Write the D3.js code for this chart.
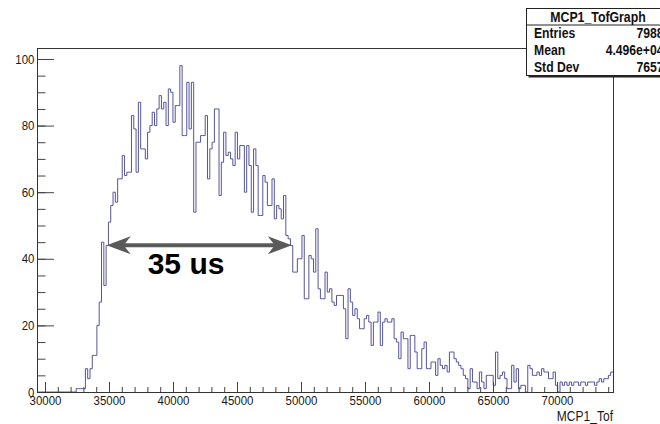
<!DOCTYPE html>
<html>
<head>
<meta charset="utf-8">
<script src="https://cdn.jsdelivr.net/npm/d3@7"></script>
<style>
  body { margin: 0; background: #fff; }
  text { font-family: "Liberation Sans", Arial, Helvetica, sans-serif; }
</style>
</head>
<body>
<svg id="chart"></svg>
<script>
// histogram MCP1_TofGraph : 250 bins, 29375 -> 74375
const xMin = 29375;
const binWidth = 180;
const binCounts = [
  0, 0, 0, 0, 0, 0, 0, 0, 0, 0,
  0, 0, 0, 0, 0, 0, 0, 1, 1, 1,
  1, 7, 4, 7, 11, 11, 20, 27, 45, 32,
  44, 51, 56, 60, 57, 64, 64, 71, 65, 66,
  66, 83, 79, 66, 87, 73, 73, 70, 78, 80,
  84, 80, 85, 89, 85, 87, 80, 91, 90, 81,
  86, 86, 98, 77, 77, 93, 79, 93, 54, 75,
  75, 77, 77, 83, 64, 73, 75, 85, 85, 59,
  69, 78, 71, 72, 70, 68, 78, 70, 74, 74,
  60, 74, 68, 54, 73, 68, 53, 53, 65, 63,
  56, 56, 64, 52, 56, 55, 52, 59, 47, 46,
  44, 36, 36, 40, 40, 47, 28, 28, 41, 40,
  36, 49, 31, 28, 28, 36, 30, 31, 27, 26,
  29, 29, 29, 25, 16, 31, 27, 23, 25, 22,
  19, 19, 22, 23, 21, 14, 21, 21, 24, 14,
  21, 22, 21, 21, 22, 16, 15, 10, 18, 16,
  16, 7, 17, 17, 12, 7, 7, 13, 15, 7,
  7, 9, 9, 5, 10, 8, 7, 8, 6, 12,
  12, 10, 9, 8, 7, 5, 4, 1, 7, 3,
  3, 1, 6, 3, 1, 5, 5, 5, 2, 12,
  4, 5, 6, 4, 1, 1, 8, 3, 7, 1,
  2, 2, 0, 8, 7, 5, 5, 6, 5, 7,
  6, 6, 4, 4, 6, 2, 0, 3, 2, 3,
  2, 3, 2, 3, 3, 2, 3, 3, 2, 3,
  3, 3, 2, 3, 4, 3, 4, 4, 5, 6
];

const xTicks = [30000, 35000, 40000, 45000, 50000, 55000, 60000, 65000, 70000];
const xMinorTicks = d3.range(30000, 74001, 1000);
const yTicks = [0, 20, 40, 60, 80, 100];
const yMinorTicks = d3.range(0, 101, 5);
const yMax = 103.3;

const xTitle = "MCP1_Tof";
const statTitle = "MCP1_TofGraph";
const statLabels = ["Entries", "Mean", "Std Dev"];
const statValues = ["7988", "4.496e+04", "7657"];

// annotation, in data units
const spanFrom = 34820, spanTo = 49280, spanLevel = 44.1;
const spanLabel = "35 us";

const svgWidth = 660, svgHeight = 424;
const margin = { top: 48, right: 47, bottom: 32, left: 37 };
const width = svgWidth - margin.left - margin.right;
const height = svgHeight - margin.top - margin.bottom;

const svg = d3.select("#chart")
  .attr("width", svgWidth)
  .attr("height", svgHeight);

const g = svg.append("g")
  .attr("transform", `translate(${margin.left},${margin.top})`);

const xScale = d3.scaleLinear()
  .domain([xMin, xMin + binCounts.length * binWidth])
  .range([0, width]);

const yScale = d3.scaleLinear()
  .domain([0, yMax])
  .range([height, 0]);

g.append("clipPath")
  .attr("id", "frame-clip")
  .append("rect")
  .attr("width", width)
  .attr("height", height);

// histogram outline
const steps = binCounts.map((c, i) => [xMin + i * binWidth, c]);
steps.push([xMin + binCounts.length * binWidth, binCounts[binCounts.length - 1]]);

const line = d3.line()
  .x(d => xScale(d[0]))
  .y(d => yScale(d[1]))
  .curve(d3.curveStepAfter);

g.append("path")
  .datum(steps)
  .attr("clip-path", "url(#frame-clip)")
  .attr("d", line)
  .attr("fill", "none")
  .attr("stroke", "#55559c")
  .attr("stroke-width", 1);

// axes, ticks pointing inward like ROOT
const xAxis = g.append("g")
  .attr("transform", `translate(0,${height})`)
  .call(d3.axisBottom(xScale).tickValues(xTicks).tickSize(-10).tickPadding(4).tickFormat(d3.format("d")));

g.append("g")
  .attr("transform", `translate(0,${height})`)
  .call(d3.axisBottom(xScale).tickValues(xMinorTicks).tickSize(-5).tickFormat(""));

const yAxis = g.append("g")
  .call(d3.axisLeft(yScale).tickValues(yTicks).tickSize(-17).tickPadding(3));

g.append("g")
  .call(d3.axisLeft(yScale).tickValues(yMinorTicks).tickSize(-8.5).tickFormat(""));

g.selectAll(".domain").remove();
g.selectAll(".tick line").attr("stroke", "#444");

xAxis.selectAll("text")
  .attr("transform", "scale(0.88,1)")
  .attr("fill", "#1a1a1a")
  .style("font-size", "13px");

yAxis.selectAll("text")
  .attr("transform", "scale(0.88,1)")
  .attr("fill", "#1a1a1a")
  .style("font-size", "13px");

// frame
g.append("rect")
  .attr("x", 0.5)
  .attr("y", 0.5)
  .attr("width", width)
  .attr("height", height)
  .attr("fill", "none")
  .attr("stroke", "#333");

g.append("text")
  .attr("transform", `translate(${width},${height + 29}) scale(0.86,1)`)
  .attr("text-anchor", "end")
  .attr("fill", "#1a1a1a")
  .style("font-size", "14px")
  .text(xTitle);

// double arrow + label
const ax0 = xScale(spanFrom), ax1 = xScale(spanTo), ay = yScale(spanLevel);
const arrowColor = "#5a5a5a";

g.append("line")
  .attr("x1", ax0 + 12)
  .attr("x2", ax1 - 12)
  .attr("y1", ay)
  .attr("y2", ay)
  .attr("stroke", arrowColor)
  .attr("stroke-width", 4);

function head(tipX, dir) {
  const p = d3.path();
  p.moveTo(tipX, ay);
  p.lineTo(tipX + dir * 24, ay - 9);
  p.lineTo(tipX + dir * 17, ay);
  p.lineTo(tipX + dir * 24, ay + 9);
  p.closePath();
  return p.toString();
}

g.append("path").attr("d", head(ax0, 1)).attr("fill", arrowColor);
g.append("path").attr("d", head(ax1, -1)).attr("fill", arrowColor);

g.append("text")
  .attr("x", xScale(spanFrom) + 41)
  .attr("y", ay + 29)
  .attr("fill", "#000")
  .style("font-size", "30px")
  .style("font-weight", "bold")
  .text(spanLabel);

// stat box (runs past the right edge of the canvas)
const box = svg.append("g").attr("transform", "translate(526.5,8.5)");

box.append("rect")
  .attr("x", 2)
  .attr("y", 2)
  .attr("width", 150)
  .attr("height", 67)
  .attr("fill", "#222");

box.append("rect")
  .attr("width", 150)
  .attr("height", 67)
  .attr("fill", "#fff")
  .attr("stroke", "#222");

box.append("line")
  .attr("x1", 0)
  .attr("x2", 150)
  .attr("y1", 16.5)
  .attr("y2", 16.5)
  .attr("stroke", "#222");

box.append("text")
  .attr("transform", "translate(71.5,13.5) scale(0.88,1)")
  .attr("text-anchor", "middle")
  .style("font-size", "14px")
  .style("font-weight", "bold")
  .attr("fill", "#111")
  .text(statTitle);

statLabels.forEach((label, i) => {
  const yy = 29.5 + i * 17.2;
  box.append("text")
    .attr("transform", `translate(7.5,${yy}) scale(0.87,1)`)
    .style("font-size", "14px")
    .style("font-weight", "bold")
    .attr("fill", "#111")
    .text(label);
  box.append("text")
    .attr("transform", `translate(137,${yy}) scale(0.87,1)`)
    .attr("text-anchor", "end")
    .style("font-size", "14px")
    .style("font-weight", "bold")
    .attr("fill", "#111")
    .text(statValues[i]);
});
</script>
</body>
</html>
